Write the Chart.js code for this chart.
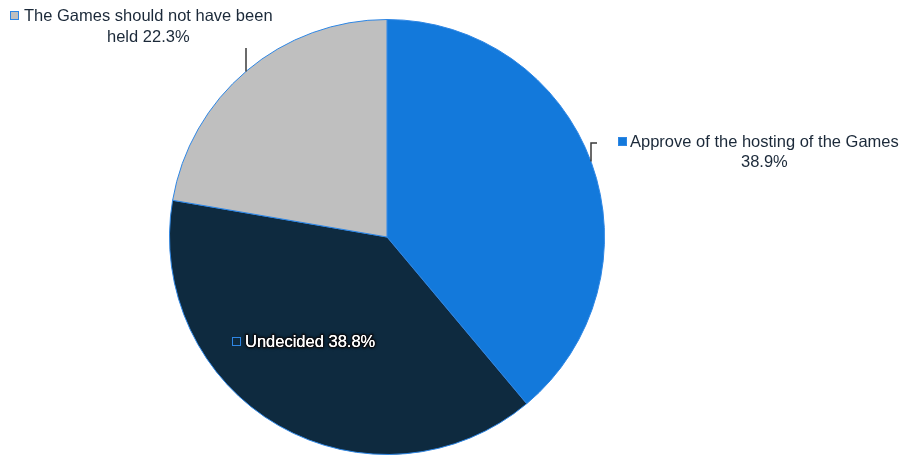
<!DOCTYPE html>
<html>
<head>
<meta charset="utf-8">
<script src="https://cdn.jsdelivr.net/npm/chart.js@4/dist/chart.umd.min.js"></script>
<style>
  html, body { margin: 0; padding: 0; background: #ffffff; }
  canvas { display: block; }
</style>
</head>
<body>
<canvas id="pie" width="901" height="455"></canvas>
<script>
// Survey answers, clockwise from 12 o'clock
const categories = ['Approve of the hosting of the Games', 'Undecided', 'The Games should not have been held'];
const shares = [38.9, 38.8, 22.3];
const sliceColors = ['#1379DB', '#0E2A3F', '#BFBFBF'];

const FONT = '16.5px "Liberation Sans", Arial, Helvetica, sans-serif';
const TEXT_COLOR = '#1B2939';
const EDGE_COLOR = '#2E86E4';

// Where each slice's callout sits
const callouts = [
  { markerX: 618, textX: 630, baseline: 147, lineHeight: 20, wrap: 275, halo: false,
    leader: { fromX: 597, fromY: 143, elbowX: 591 } },
  { markerX: 232, textX: 245, baseline: 347, lineHeight: 20, wrap: 300, halo: true, leader: null },
  { markerX: 10, textX: 24, baseline: 21, lineHeight: 21, wrap: 255, halo: false,
    leader: { fromX: 246, fromY: 48, elbowX: 246 } }
];

function wrapWords(ctx, text, maxWidth) {
  const words = text.split(' ');
  const lines = [];
  let line = '';
  for (const w of words) {
    const test = line ? line + ' ' + w : w;
    if (line && ctx.measureText(test).width > maxWidth) {
      lines.push(line);
      line = w;
    } else {
      line = test;
    }
  }
  if (line) lines.push(line);
  return lines;
}

const calloutPlugin = {
  id: 'callouts',
  afterDatasetsDraw(chart) {
    const ctx = chart.ctx;
    const arcs = chart.getDatasetMeta(0).data;
    ctx.save();
    ctx.font = FONT;
    arcs.forEach((arc, i) => {
      const c = callouts[i];
      const { x: cx, y: cy, outerRadius: r } = arc.getProps(['x', 'y', 'outerRadius'], true);

      // leader line down to the rim of the pie
      if (c.leader) {
        const dx = c.leader.elbowX - cx;
        const dy = Math.sqrt(Math.max(r * r - dx * dx, 0));
        const rimY = c.leader.fromY < cy ? cy - dy : cy + dy;
        ctx.beginPath();
        ctx.strokeStyle = '#3A3A3A';
        ctx.lineWidth = 1.5;
        ctx.moveTo(c.leader.fromX, c.leader.fromY);
        ctx.lineTo(c.leader.elbowX, c.leader.fromY);
        ctx.lineTo(c.leader.elbowX, rimY);
        ctx.stroke();
      }

      // legend key square
      ctx.fillStyle = sliceColors[i];
      ctx.fillRect(c.markerX, c.baseline - 10, 9, 9);
      ctx.strokeStyle = EDGE_COLOR;
      ctx.lineWidth = 1;
      ctx.strokeRect(c.markerX + 0.5, c.baseline - 9.5, 8, 8);

      // label text
      const text = categories[i] + ' ' + shares[i].toFixed(1) + '%';
      const lines = wrapWords(ctx, text, c.wrap);
      const firstW = ctx.measureText(lines[0]).width;
      const centre = c.textX + firstW / 2;
      ctx.textBaseline = 'alphabetic';
      lines.forEach((ln, k) => {
        const y = c.baseline + k * c.lineHeight;
        let x, align;
        if (k === 0) { x = c.textX; align = 'left'; }
        else { x = centre; align = 'center'; }
        ctx.textAlign = align;
        if (c.halo) {
          // white lettering with a soft dark outline
          ctx.save();
          ctx.shadowColor = 'rgba(0,0,0,0.9)';
          ctx.shadowBlur = 2.5;
          ctx.lineJoin = 'round';
          ctx.lineWidth = 2.5;
          ctx.strokeStyle = 'rgba(20,20,25,0.75)';
          ctx.strokeText(ln, x, y);
          ctx.fillStyle = '#FFFFFF';
          ctx.fillText(ln, x, y);
          ctx.shadowBlur = 0;
          ctx.fillText(ln, x, y);
          ctx.restore();
        } else {
          ctx.fillStyle = TEXT_COLOR;
          ctx.fillText(ln, x, y);
        }
      });
    });
    ctx.restore();
  }
};

new Chart(document.getElementById('pie'), {
  type: 'pie',
  data: {
    labels: categories,
    datasets: [{
      data: shares,
      backgroundColor: sliceColors,
      borderColor: EDGE_COLOR,
      borderWidth: 1
    }]
  },
  options: {
    responsive: false,
    devicePixelRatio: 1,
    animation: false,
    layout: { padding: { left: 0, right: 127, top: 19, bottom: 0 } },
    plugins: {
      legend: { display: false },
      tooltip: { enabled: false }
    }
  },
  plugins: [calloutPlugin]
});
</script>
</body>
</html>
